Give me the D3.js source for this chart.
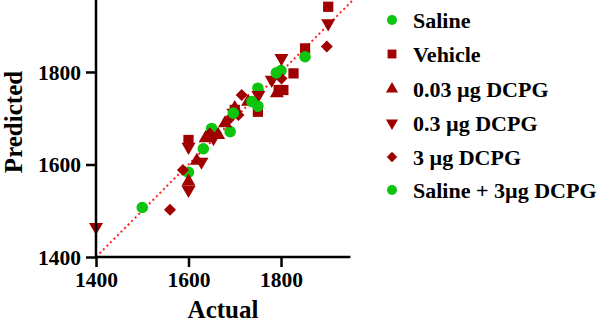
<!DOCTYPE html>
<html><head><meta charset="utf-8">
<script src="https://cdn.jsdelivr.net/npm/d3@7"></script>
<style>body{margin:0;background:#fff}svg{display:block}text{font-family:"Liberation Serif","Times New Roman",serif;font-weight:bold;fill:#000}</style>
</head><body><svg id="c" width="598" height="327"></svg>
<script>
const seriesNames = ["Saline","Vehicle","0.03 µg DCPG","0.3 µg DCPG","3 µg DCPG","Saline + 3µg DCPG"];
const salineActual = [1500,1600,1650,1690,1750,1800];
const salinePred   = [1507,1583,1678,1671,1765,1803];
const vehicleActual = [1600,1700,1750,1795,1805,1827,1852,1902];
const vehiclePred   = [1653,1718,1714,1761,1761,1797,1851,1941];
const dcpg003Actual = [1600,1618,1637,1664,1679,1700,1729,1791];
const dcpg003Pred   = [1563,1608,1657,1664,1689,1722,1736,1754];
const dcpg03Actual = [1400,1600,1600,1628,1654,1697,1751,1780,1801,1902];
const dcpg03Pred   = [1465,1545,1638,1606,1657,1712,1750,1783,1830,1905];
const dcpg3Actual = [1560,1588,1646,1686,1708,1715,1801,1899];
const dcpg3Pred   = [1502,1588,1667,1696,1707,1750,1786,1855];
const salDcpgActual = [1632,1697,1737,1750,1790,1852];
const salDcpgPred   = [1634,1711,1736,1726,1798,1833];
const xTicks = [1400,1600,1800];
const yTicks = [1400,1600,1800];

const RED = "#a00000", GREEN = "#0fc40f";
const FONT = "'Liberation Serif','Times New Roman',serif";
const svg = d3.select("#c");
const x = d3.scaleLinear().domain([1400,1950]).range([96,350.4]);
const y = d3.scaleLinear().domain([1400,1950]).range([257,2.6]);

const series = [
  {name:seriesNames[0], xs:salineActual, ys:salinePred, shape:"circle", color:GREEN},
  {name:seriesNames[1], xs:vehicleActual, ys:vehiclePred, shape:"square", color:RED},
  {name:seriesNames[2], xs:dcpg003Actual, ys:dcpg003Pred, shape:"up", color:RED},
  {name:seriesNames[3], xs:dcpg03Actual, ys:dcpg03Pred, shape:"down", color:RED},
  {name:seriesNames[4], xs:dcpg3Actual, ys:dcpg3Pred, shape:"diamond", color:RED},
  {name:seriesNames[5], xs:salDcpgActual, ys:salDcpgPred, shape:"circle", color:GREEN}
];
function symPath(shape, k){
  if(shape==="circle") return {d:d3.symbol(d3.symbolCircle, 105*k)(), r:0};
  if(shape==="square") return {d:d3.symbol(d3.symbolSquare, 105*k)(), r:0};
  if(shape==="up") return {d:d3.symbol(d3.symbolTriangle, 85*k)(), r:0};
  if(shape==="down") return {d:d3.symbol(d3.symbolTriangle, 85*k)(), r:180};
  return {d:d3.symbol(d3.symbolSquare, 72*k)(), r:45};
}

// diagonal identity line
svg.append("defs").append("clipPath").attr("id","clip").append("rect")
  .attr("x",96).attr("y",0).attr("width",260).attr("height",257);
svg.append("line").attr("clip-path","url(#clip)")
  .attr("x1",x(1400)).attr("y1",y(1400)).attr("x2",x(1960)).attr("y2",y(1960))
  .attr("stroke","#ff2020").attr("stroke-width",2).attr("stroke-dasharray","2,3");

// points
series.forEach(s=>{
  const p = symPath(s.shape,1);
  svg.append("g").selectAll("path").data(s.xs.map((v,i)=>[v,s.ys[i]])).join("path")
    .attr("d",p.d).attr("fill",s.color)
    .attr("transform",d=>`translate(${x(d[0])},${y(d[1])}) rotate(${p.r})`);
});

// axes
const xa = svg.append("g").attr("transform","translate(0,257)")
  .call(d3.axisBottom(x).tickValues(xTicks).tickSize(10).tickPadding(6).tickFormat(d3.format("d")));
const ya = svg.append("g").attr("transform","translate(96,0)")
  .call(d3.axisLeft(y).tickValues(yTicks).tickSize(10).tickPadding(5).tickFormat(d3.format("d")));
[xa,ya].forEach(a=>{
  a.attr("font-family",FONT).attr("font-size",21.5).attr("font-weight","bold");
  a.select(".domain").attr("stroke","#000").attr("stroke-width",2.5);
  a.selectAll(".tick line").attr("stroke","#000").attr("stroke-width",2.5);
  a.selectAll(".tick text").attr("fill","#000");
});
xa.select(".domain").attr("d","M96,0H350.4");
ya.select(".domain").attr("d","M0,257V0");
xa.selectAll(".tick text").attr("dy","0.71em").attr("y",15);
ya.selectAll(".tick text").attr("dy","0.34em");

svg.append("text").attr("x",223).attr("y",318).attr("text-anchor","middle").attr("font-size",25).text("Actual");
svg.append("text").attr("transform","translate(22,122) rotate(-90)").attr("text-anchor","middle").attr("font-size",25).text("Predicted");

// legend
const ly = [20,54,89,123,157,190];
series.forEach((s,i)=>{
  const p = symPath(s.shape,0.75);
  svg.append("path").attr("d",p.d).attr("fill",s.color)
    .attr("transform",`translate(392,${ly[i]}) rotate(${p.r})`);
  svg.append("text").attr("x",413).attr("y",ly[i]+7.5).attr("font-size",22).text(s.name);
});
</script></body></html>
